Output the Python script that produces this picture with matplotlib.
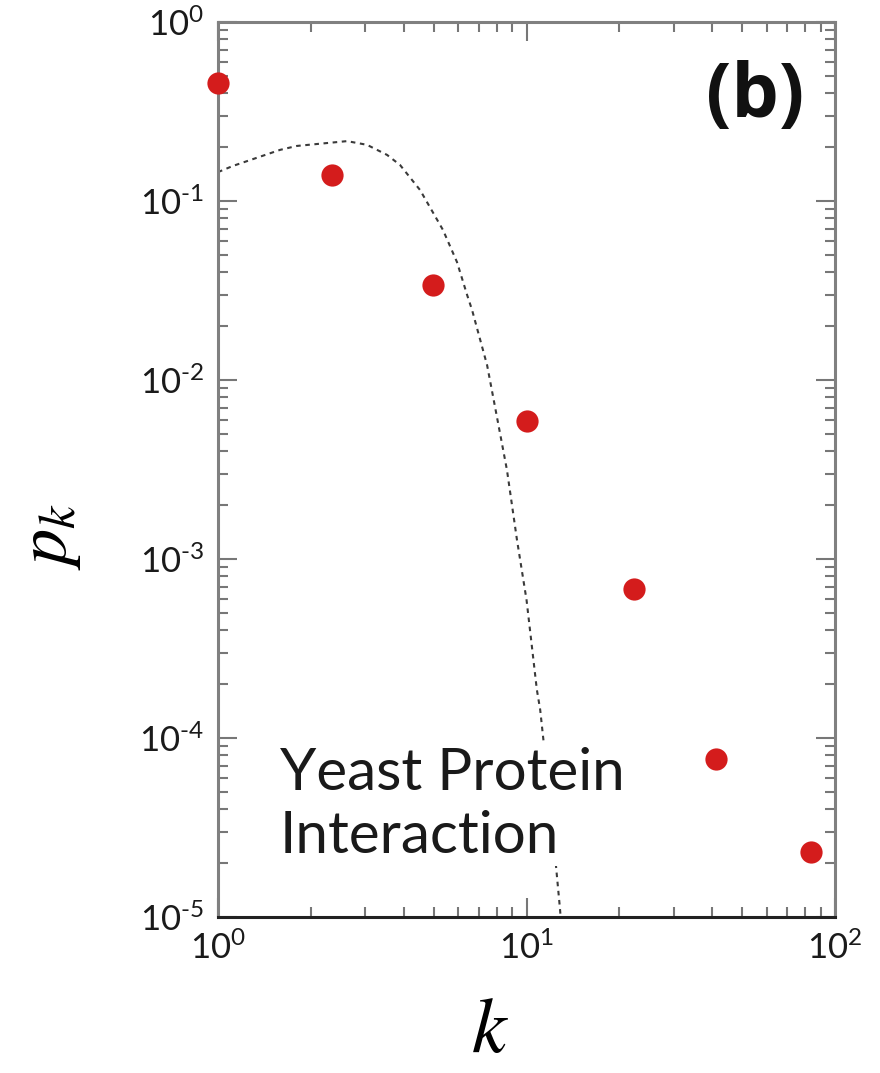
import matplotlib
matplotlib.use("Agg")
import matplotlib.pyplot as plt
from matplotlib.ticker import LogLocator, FuncFormatter, NullFormatter
import numpy as np

# degree distribution of the yeast protein interaction network
k_vals = [1.0, 2.34, 4.98, 10.0, 22.3, 41.0, 83.6]
pk_vals = [0.457, 0.14, 0.034, 0.0059, 6.8e-4, 7.6e-5, 2.3e-5]

# dashed reference curve
curve_k = [1.0, 1.118, 1.589, 1.80, 2.62, 3.04, 3.53, 3.89, 4.52, 5.36, 5.95,
           6.42, 6.66, 7.45, 8.02, 8.64, 9.31, 10.0, 10.8, 11.07, 11.9, 12.84, 13.1]
curve_pk = [0.145, 0.157, 0.193, 0.203, 0.216, 0.206, 0.181, 0.159, 0.115, 0.0689,
            0.0456, 0.0298, 0.0246, 0.0121, 0.0062, 0.00314, 0.00128, 5.9e-4,
            1.86e-4, 1.44e-4, 4.5e-5, 1.1e-5, 7e-6]

plt.rcParams["font.family"] = ["Lato", "DejaVu Sans"]
plt.rcParams["mathtext.default"] = "regular"
plt.rcParams["mathtext.fontset"] = "stix"

fig = plt.figure(figsize=(8.8, 10.73), dpi=100)
ax = fig.add_axes([0.2477, 0.1454, 0.949 - 0.2477, 0.9795 - 0.1454])

ax.plot(curve_k, curve_pk, color="#3a3a3a", lw=1.5, dashes=(2.2, 2.2), zorder=2)
ax.plot(k_vals, pk_vals, "o", color="#d41c1c", ms=16, mec="none", zorder=4,
        clip_on=False)

ax.set_xscale("log")
ax.set_yscale("log")
ax.set_xlim(1, 100)
ax.set_ylim(1e-5, 1)


def exp_label(v, pos):
    e = int(round(np.log10(v)))
    s = str(e).replace("-", "\u2010")
    return "10$^{%s}$" % s


fmt = FuncFormatter(exp_label)
ax.xaxis.set_major_formatter(fmt)
ax.yaxis.set_major_formatter(fmt)
ax.xaxis.set_minor_locator(LogLocator(base=10, subs=np.arange(2, 10)))
ax.yaxis.set_minor_locator(LogLocator(base=10, subs=np.arange(2, 10)))
ax.xaxis.set_minor_formatter(NullFormatter())
ax.yaxis.set_minor_formatter(NullFormatter())
ax.tick_params(which="both", direction="in", top=True, right=True,
               color="#777777", width=1.5, labelsize=25, labelcolor="#1a1a1a")
ax.tick_params(which="major", length=14, pad=10)
ax.tick_params(which="minor", length=7)

for side in ("top", "left", "right"):
    ax.spines[side].set_color("#808080")
    ax.spines[side].set_linewidth(2.2)
ax.spines["bottom"].set_color("#222222")
ax.spines["bottom"].set_linewidth(2.2)

ax.text(0.87, 0.916, "(b)", transform=ax.transAxes, fontsize=54,
        fontweight="bold", ha="center", va="center", color="#111111",
        family=["Open Sans", "DejaVu Sans"])
ax.text(0.1, 0.125, "Yeast Protein\nInteraction", transform=ax.transAxes,
        fontsize=42, ha="left", va="center", color="#1a1a1a", linespacing=1.25,
        bbox=dict(facecolor="white", edgecolor="none", pad=2), zorder=3)

fig.text(0.057, 0.5, "$\\mathit{p_k}$", fontsize=52, ha="center", va="center",
         rotation=90)
fig.text(0.557, 0.04, "$\\mathit{k}$", fontsize=56, ha="center", va="center")

fig.savefig("out.png", dpi=100)
